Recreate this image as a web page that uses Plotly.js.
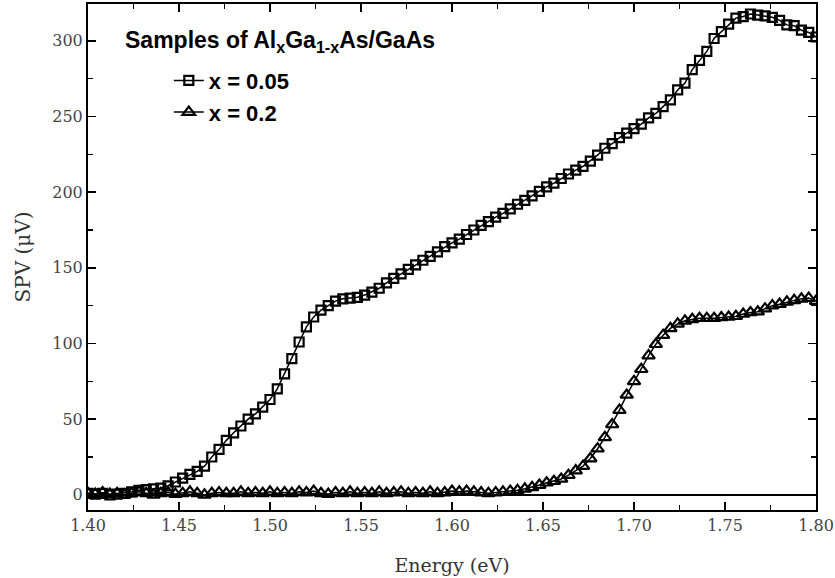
<!DOCTYPE html>
<html>
<head>
<meta charset="utf-8">
<script src="https://cdn.plot.ly/plotly-3.0.1.min.js"></script>
<style>html,body{margin:0;padding:0;background:#fff;}#chart{width:835px;height:578px;}</style>
</head>
<body>
<div id="chart"></div>
<script>
// Energy grid (eV), step 0.004
const energy = [];
for (let i = 0; i <= 100; i++) energy.push(+(1.40 + i * 0.004).toFixed(3));

// x = 0.05 sample (squares), SPV in µV
const spv005 = [
  1, 0.5, 1, 0, 0.5, 1, 2, 3, 3.5, 4,
  4.5, 6, 8.5, 11, 13.5, 15.5, 19, 25, 30, 36,
  41, 45.5, 50, 53.5, 58, 63, 70, 80, 90, 101,
  111, 117.5, 122, 125, 128, 129.5, 130, 130.5, 132, 134,
  136.5, 140, 143, 146, 149, 152, 155, 157.5, 160.5, 164,
  166.5, 169, 172, 175, 178, 180.5, 183.5, 186, 189, 192,
  194.5, 197.5, 200.5, 203.5, 206, 209, 212, 214.5, 217, 220.5,
  224.5, 229, 232, 236, 239, 242, 245, 249, 252, 256.5,
  261, 267.5, 272, 281, 287, 293, 301.5, 306, 311, 315,
  316, 317.7, 317, 316.4, 315.5, 313.5, 310.5, 310, 307, 305.5,
  302.5
];

// x = 0.2 sample (triangles), SPV in µV
const spv02 = [
  1, 0.5, 1.5, 0.5, 1, 0, 1, 2, 1, 0,
  1, 1.5, 0.5, 1, 2, 1, 0, 1, 1.5, 1,
  1, 2, 1, 1.5, 1, 2, 1, 1.5, 1, 2,
  1.5, 2.5, 1, 0.5, 1.5, 1, 2, 1, 1.5, 1,
  2, 1, 1.5, 2, 1, 1.5, 1, 2, 1, 1.5,
  2.5, 2, 2.5, 2, 1.5, 1, 1.5, 2, 2.5, 3,
  4, 5, 6.5, 8, 9, 10.5, 13, 16, 19, 24,
  30.5, 38, 46.5, 56, 66, 75, 83, 92, 99.5, 105.5,
  110, 113, 115, 116, 116.7, 116.7, 116.7, 117.2, 117.5, 118,
  119.5, 120.5, 121, 123, 125, 126, 127.5, 128.5, 129.5, 130,
  128
];

const xTicks = [1.40, 1.45, 1.50, 1.55, 1.60, 1.65, 1.70, 1.75, 1.80];
const xTickText = ["1.40", "1.45", "1.50", "1.55", "1.60", "1.65", "1.70", "1.75", "1.80"];
const yTicks = [0, 50, 100, 150, 200, 250, 300];

const legendNames = ["x = 0.05", "x = 0.2"];

const traces = [
  {
    x: energy, y: spv005, type: "scatter", mode: "lines+markers", name: legendNames[0],
    line: {color: "#000", width: 1.5},
    marker: {symbol: "square-open", size: 9, color: "#000", line: {width: 2.2, color: "#000"}}
  },
  {
    x: energy, y: spv02, type: "scatter", mode: "lines+markers", name: legendNames[1],
    line: {color: "#000", width: 1.5},
    marker: {symbol: "triangle-up-open", size: 11, color: "#000", line: {width: 2.2, color: "#000"}}
  }
];

const serif = "DejaVu Serif, Liberation Serif, serif";
const sans = "Liberation Sans, Arial, sans-serif";

const layout = {
  width: 835, height: 578,
  margin: {l: 88, r: 19, t: 4, b: 68},
  paper_bgcolor: "#fff", plot_bgcolor: "#fff",
  showlegend: true,
  legend: {
    x: 0.111, y: 0.89, xanchor: "left", yanchor: "top",
    bgcolor: "rgba(0,0,0,0)", borderwidth: 0,
    font: {family: sans, size: 22, color: "#000", weight: "bold"},
    tracegroupgap: 0
  },
  xaxis: {
    range: [1.40, 1.80],
    tickvals: xTicks, ticktext: xTickText,
    ticks: "inside", ticklen: 8, tickwidth: 1.5, tickcolor: "#000",
    minor: {dtick: 0.025, tick0: 1.40, ticks: "inside", ticklen: 5, tickwidth: 1.5, tickcolor: "#000"},
    showline: true, linecolor: "#000", linewidth: 2, mirror: "ticks",
    showgrid: false, zeroline: false,
    tickfont: {family: serif, size: 16, color: "#444"},
    title: {text: "Energy (eV)", font: {family: serif, size: 19, color: "#333"}, standoff: 24}
  },
  yaxis: {
    range: [-10, 324.3],
    tickvals: yTicks,
    ticks: "inside", ticklen: 8, tickwidth: 1.5, tickcolor: "#000",
    minor: {dtick: 25, tick0: 0, ticks: "inside", ticklen: 5, tickwidth: 1.5, tickcolor: "#000"},
    showline: true, linecolor: "#000", linewidth: 2, mirror: "ticks",
    showgrid: false, zeroline: true, zerolinecolor: "#000", zerolinewidth: 1.5,
    tickfont: {family: serif, size: 16, color: "#444"},
    title: {text: "SPV (μV)", font: {family: serif, size: 20, color: "#333"}, standoff: 16}
  },
  annotations: [
    {
      xref: "paper", yref: "paper", x: 0.048, y: 0.925, xanchor: "left", yanchor: "middle",
      showarrow: false,
      text: "<b>Samples of Al<sub>x</sub>Ga<sub>1-x</sub>As/GaAs</b>",
      font: {family: sans, size: 23, color: "#000"}
    }
  ]
};

Plotly.newPlot("chart", traces, layout, {displayModeBar: false, staticPlot: true});
</script>
</body>
</html>
